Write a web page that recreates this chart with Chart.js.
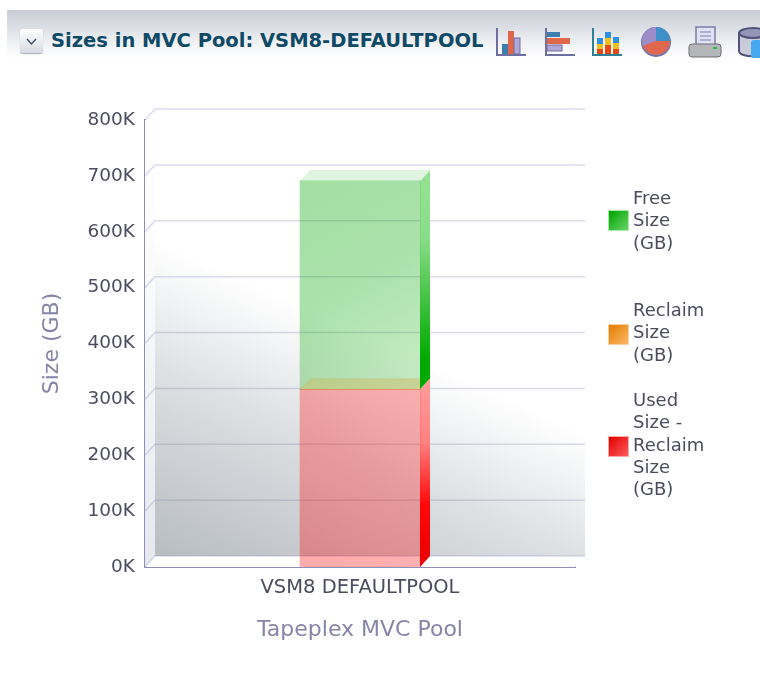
<!DOCTYPE html>
<html>
<head>
<meta charset="utf-8">
<title>Sizes in MVC Pool</title>
<script src="https://cdn.jsdelivr.net/npm/chart.js@4"></script>
<style>
	html, body { margin: 0; padding: 0; background: #fff; }
	#page { position: relative; width: 760px; height: 681px; overflow: hidden; font-family: "DejaVu Sans", sans-serif; }
	#chart { position: absolute; left: 0; top: 0; }
	#bar { position: absolute; left: 7px; top: 10px; width: 753px; height: 48px; background: linear-gradient(#c9ccd4 0, #dcdfe5 18px, #f4f5f7 36px, #fff 48px); }
	#toggle { position: absolute; left: 20px; top: 29px; width: 23px; height: 24px; border-radius: 3px; background: linear-gradient(#fff, #d8dbe2); box-shadow: 0 1px 1px #aab; }
	#toggle svg { position: absolute; left: 5px; top: 8px; }
	#title { position: absolute; left: 51px; top: 30px; font-weight: bold; font-size: 19.5px; line-height: 22px; color: #0e4a66; white-space: nowrap; }
	.icon { position: absolute; top: 26px; }
	.leg { position: absolute; left: 608px; }
	.leg i { position: absolute; left: 0; width: 19px; height: 19px; border: 1px solid; }
	.leg span { position: absolute; left: 25px; top: 0; font-size: 18px; line-height: 22.3px; color: #4c4c60; white-space: pre; }
</style>
</head>
<body>
<div id="page">
	<canvas id="chart" width="760" height="681"></canvas>
	<div id="bar"></div>
	<div id="toggle"><svg width="13" height="9"><path d="M2 2 L6.5 7 L11 2" fill="none" stroke="#40506a" stroke-width="1.4"/></svg></div>
	<div id="title">Sizes in MVC Pool: VSM8-DEFAULTPOOL</div>
	<svg class="icon" style="left:494px" width="34" height="34"><path d="M3 2V29H32" fill="none" stroke="#6e6ea0" stroke-width="2"/><rect x="8" y="18" width="6" height="10" fill="#3a7fb0"/><rect x="14" y="5" width="6" height="23" fill="#e0664c"/><rect x="20" y="12" width="6" height="16" fill="#b0a8d8" stroke="#6e6ea0"/></svg>
	<svg class="icon" style="left:543px" width="34" height="34"><path d="M3 2V29H32" fill="none" stroke="#6e6ea0" stroke-width="2"/><rect x="4" y="6" width="13" height="5" fill="#3a7fb0"/><rect x="4" y="12" width="23" height="6" fill="#e0664c"/><rect x="4" y="19" width="15" height="6" fill="#b0a8d8" stroke="#6e6ea0"/></svg>
	<svg class="icon" style="left:590px" width="34" height="34"><path d="M3 2V29H32" fill="none" stroke="#2f7f96" stroke-width="2"/><rect x="7" y="12" width="6" height="6" fill="#2f8fe0"/><rect x="7" y="18" width="6" height="5" fill="#f0c020"/><rect x="7" y="23" width="6" height="5" fill="#e84810"/><rect x="15" y="6" width="6" height="6" fill="#2f8fe0"/><rect x="15" y="12" width="6" height="7" fill="#f0c020"/><rect x="15" y="19" width="6" height="9" fill="#e84810"/><rect x="23" y="11" width="6" height="6" fill="#2f8fe0"/><rect x="23" y="17" width="6" height="6" fill="#f0c020"/><rect x="23" y="23" width="6" height="5" fill="#e84810"/></svg>
	<svg class="icon" style="left:640px" width="34" height="34"><circle cx="16" cy="16" r="15" fill="#6e6ea0"/><circle cx="16" cy="15" r="14" fill="#9c8cc8"/><path d="M16 15V1A14 14 0 0 1 30 15Z" fill="#3f8fc8"/><path d="M16 15H30A14 14 0 0 1 3 20Z" fill="#e0664c"/></svg>
	<svg class="icon" style="left:687px" width="36" height="34"><rect x="9" y="1" width="19" height="20" fill="#dfe2f2" stroke="#7c7cac" stroke-width="1.5"/><path d="M13 6H24M13 10H24M13 14H24" stroke="#7c7cac"/><rect x="2" y="18" width="32" height="13" rx="3" fill="#b4b6ba" stroke="#6c6e74"/><rect x="26" y="21" width="4" height="2" fill="#20c040"/></svg>
	<svg class="icon" style="left:737px" width="34" height="34"><path d="M2 7V25C2 32 30 32 30 25V7Z" fill="#c9cbd8" stroke="#50527c" stroke-width="2"/><ellipse cx="16" cy="7" rx="14" ry="5" fill="#9496b8" stroke="#50527c" stroke-width="2"/><rect x="14" y="14" width="18" height="18" rx="3" fill="#48a8f0"/></svg>
	<div id="legend"></div>
</div>
<script>
// values
const categories = ["VSM8 DEFAULTPOOL"];
const usedMinusReclaim = [318000];
const reclaimSize = [0];
const freeSize = [373000];

const seriesNames = ["Used Size - Reclaim Size (GB)", "Reclaim Size (GB)", "Free Size (GB)"];
const legendLines = [["Free", "Size", "(GB)"], ["Reclaim", "Size", "(GB)"], ["Used", "Size -", "Reclaim", "Size", "(GB)"]];

const yMax = 800000;
const yStep = 100000;

// the fake 3d depth of the old chart
const depthX = 10;
const depthY = -11;

const faces = [
	{ stops: [[0, "#93e293"], [0.28, "#88dc88"], [0.85, "#00aa00"], [1, "#00a800"]], top: "#e0f5e0" },
	{ stops: [[0, "#ff9898"], [1, "#ff9898"]], top: "#ffc0a0" },
	{ stops: [[0, "#ff9898"], [0.3, "#ff8080"], [0.65, "#ff0808"], [1, "#e80000"]], top: "#ffddc0" }
];
// dataset order is used, reclaim, free
const faceOf = [faces[2], faces[1], faces[0]];

function frontFill(chart, from, to) {
	if (!chart.chartArea) return from;
	const yScale = chart.scales.y;
	const center = chart.scales.x.getPixelForValue(0);
	const g = chart.ctx.createLinearGradient(center - 60, yScale.getPixelForValue(0), center + 60, yScale.getPixelForValue(usedMinusReclaim[0] * 0.6));
	g.addColorStop(0, from);
	g.addColorStop(1, to);
	return g;
}

function frontFillFree(chart) {
	if (!chart.chartArea) return "rgba(0,170,0,.3)";
	const yScale = chart.scales.y;
	const center = chart.scales.x.getPixelForValue(0);
	const g = chart.ctx.createLinearGradient(center - 60, yScale.getPixelForValue(usedMinusReclaim[0] + freeSize[0]), center + 60, yScale.getPixelForValue(usedMinusReclaim[0]));
	g.addColorStop(0, "rgba(0,165,0,.36)");
	g.addColorStop(0.5, "rgba(0,165,0,.33)");
	g.addColorStop(1, "rgba(0,170,0,.21)");
	return g;
}

const wallPlugin = {
	id: "wall",
	beforeDatasetsDraw(chart) {
		const { ctx, chartArea: a } = chart;
		const yScale = chart.scales.y;
		ctx.save();

		// back wall
		const backTop = a.top + depthY, backBottom = a.bottom + depthY;
		const wall = ctx.createLinearGradient(300, 305, 182, 568);
		wall.addColorStop(0, "#ffffff");
		wall.addColorStop(0.15, "#f3f4f5");
		wall.addColorStop(0.4, "#dee0e3");
		wall.addColorStop(1, "#b8bdc1");
		ctx.fillStyle = wall;
		ctx.fillRect(a.left + depthX, backTop, a.right - a.left, backBottom - backTop);

		// left wall
		const side = ctx.createLinearGradient(0, a.top, 0, a.bottom);
		side.addColorStop(0, "#ffffff");
		side.addColorStop(0.35, "#fbfbfc");
		side.addColorStop(1, "#e6e8ee");
		ctx.fillStyle = side;
		ctx.beginPath();
		ctx.moveTo(a.left, a.top);
		ctx.lineTo(a.left + depthX, backTop);
		ctx.lineTo(a.left + depthX, backBottom);
		ctx.lineTo(a.left, a.bottom);
		ctx.closePath();
		ctx.fill();

		// floor
		ctx.fillStyle = "#ffffff";
		ctx.beginPath();
		ctx.moveTo(a.left, a.bottom);
		ctx.lineTo(a.left + depthX, backBottom);
		ctx.lineTo(a.right + depthX, backBottom);
		ctx.lineTo(a.right, a.bottom);
		ctx.closePath();
		ctx.fill();

		// grid lines sit on the back wall
		ctx.strokeStyle = "rgba(120,120,175,.26)";
		ctx.lineWidth = 1.5;
		yScale.ticks.forEach(function (t) {
			const y = yScale.getPixelForValue(t.value);
			ctx.beginPath();
			ctx.moveTo(a.left, y);
			ctx.lineTo(a.left + depthX, y + depthY);
			ctx.lineTo(a.right + depthX, y + depthY);
			ctx.stroke();
		});

		// side and top of every bar
		chart.data.datasets.forEach(function (ds, i) {
			chart.getDatasetMeta(i).data.forEach(function (el) {
				const p = el.getProps(["x", "y", "base", "width"], true);
				if (Math.abs(p.base - p.y) < 1) return;
				const right = p.x + p.width / 2, left = p.x - p.width / 2;
				const face = faceOf[i];

				const g = ctx.createLinearGradient(0, p.y, 0, p.base);
				face.stops.forEach(function (s) { g.addColorStop(s[0], s[1]); });
				ctx.fillStyle = g;
				ctx.beginPath();
				ctx.moveTo(right, p.y);
				ctx.lineTo(right + depthX, p.y + depthY);
				ctx.lineTo(right + depthX, p.base + depthY);
				ctx.lineTo(right, p.base);
				ctx.closePath();
				ctx.fill();

				ctx.fillStyle = face.top;
				ctx.beginPath();
				ctx.moveTo(left, p.y);
				ctx.lineTo(left + depthX, p.y + depthY);
				ctx.lineTo(right + depthX, p.y + depthY);
				ctx.lineTo(right, p.y);
				ctx.closePath();
				ctx.fill();
			});
		});
		ctx.restore();
	}
};

new Chart(document.getElementById("chart"), {
	type: "bar",
	data: {
		labels: categories,
		datasets: [
			{ label: seriesNames[0], data: usedMinusReclaim, backgroundColor: function (c) { return frontFill(c.chart, "rgba(255,0,0,.33)", "rgba(255,10,10,.31)"); } },
			{ label: seriesNames[1], data: reclaimSize, backgroundColor: "rgba(255,140,0,.3)" },
			{ label: seriesNames[2], data: freeSize, backgroundColor: function (c) { return frontFillFree(c.chart); } }
		]
	},
	options: {
		responsive: false,
		animation: false,
		barThickness: 120,
		layout: { padding: { left: 39, right: 185, top: 120, bottom: 38 } },
		plugins: { legend: { display: false }, tooltip: { enabled: false } },
		scales: {
			x: {
				stacked: true,
				afterFit: function (s) { s.height = 76; },
				grid: { display: false },
				border: { color: "#8e8eb8", width: 2 },
				ticks: { color: "#4c4c60", font: { family: "DejaVu Sans", size: 19.5 }, padding: 1, maxRotation: 0 },
				title: { display: true, text: "Tapeplex MVC Pool", color: "#8585aa", font: { family: "DejaVu Sans", size: 22 }, padding: 0 }
			},
			y: {
				stacked: true,
				min: 0,
				max: yMax,
				afterFit: function (s) { s.width = 106; },
				grid: { display: false },
				border: { color: "#8e8eb8", width: 2 },
				ticks: { stepSize: yStep, color: "#4c4c60", font: { family: "DejaVu Sans", size: 18.5 }, padding: 2, callback: function (v) { return (v / 1000) + "K"; } },
				title: { display: true, text: "Size (GB)", color: "#8585aa", font: { family: "DejaVu Sans", size: 22 }, padding: 0 }
			}
		}
	},
	plugins: [wallPlugin]
});

// legend is plain html, the wrapped labels do not fit the built in one
const legendTops = [187, 299, 389];
const swatchTops = [23, 25, 47];
const swatchColors = [["#00a400", "#66d466", "#a8e8a8"], ["#e07c00", "#ffb866", "#ffd0a0"], ["#e00000", "#ff5a5a", "#ffa8a8"]];
const legendBox = document.getElementById("legend");
legendLines.forEach(function (lines, i) {
	const item = document.createElement("div");
	item.className = "leg";
	item.style.top = legendTops[i] + "px";
	const swatch = document.createElement("i");
	swatch.style.top = swatchTops[i] + "px";
	swatch.style.background = "linear-gradient(135deg," + swatchColors[i][0] + "," + swatchColors[i][1] + ")";
	swatch.style.borderColor = swatchColors[i][2];
	const text = document.createElement("span");
	text.textContent = lines.join("\n");
	item.appendChild(swatch);
	item.appendChild(text);
	legendBox.appendChild(item);
});
</script>
</body>
</html>
